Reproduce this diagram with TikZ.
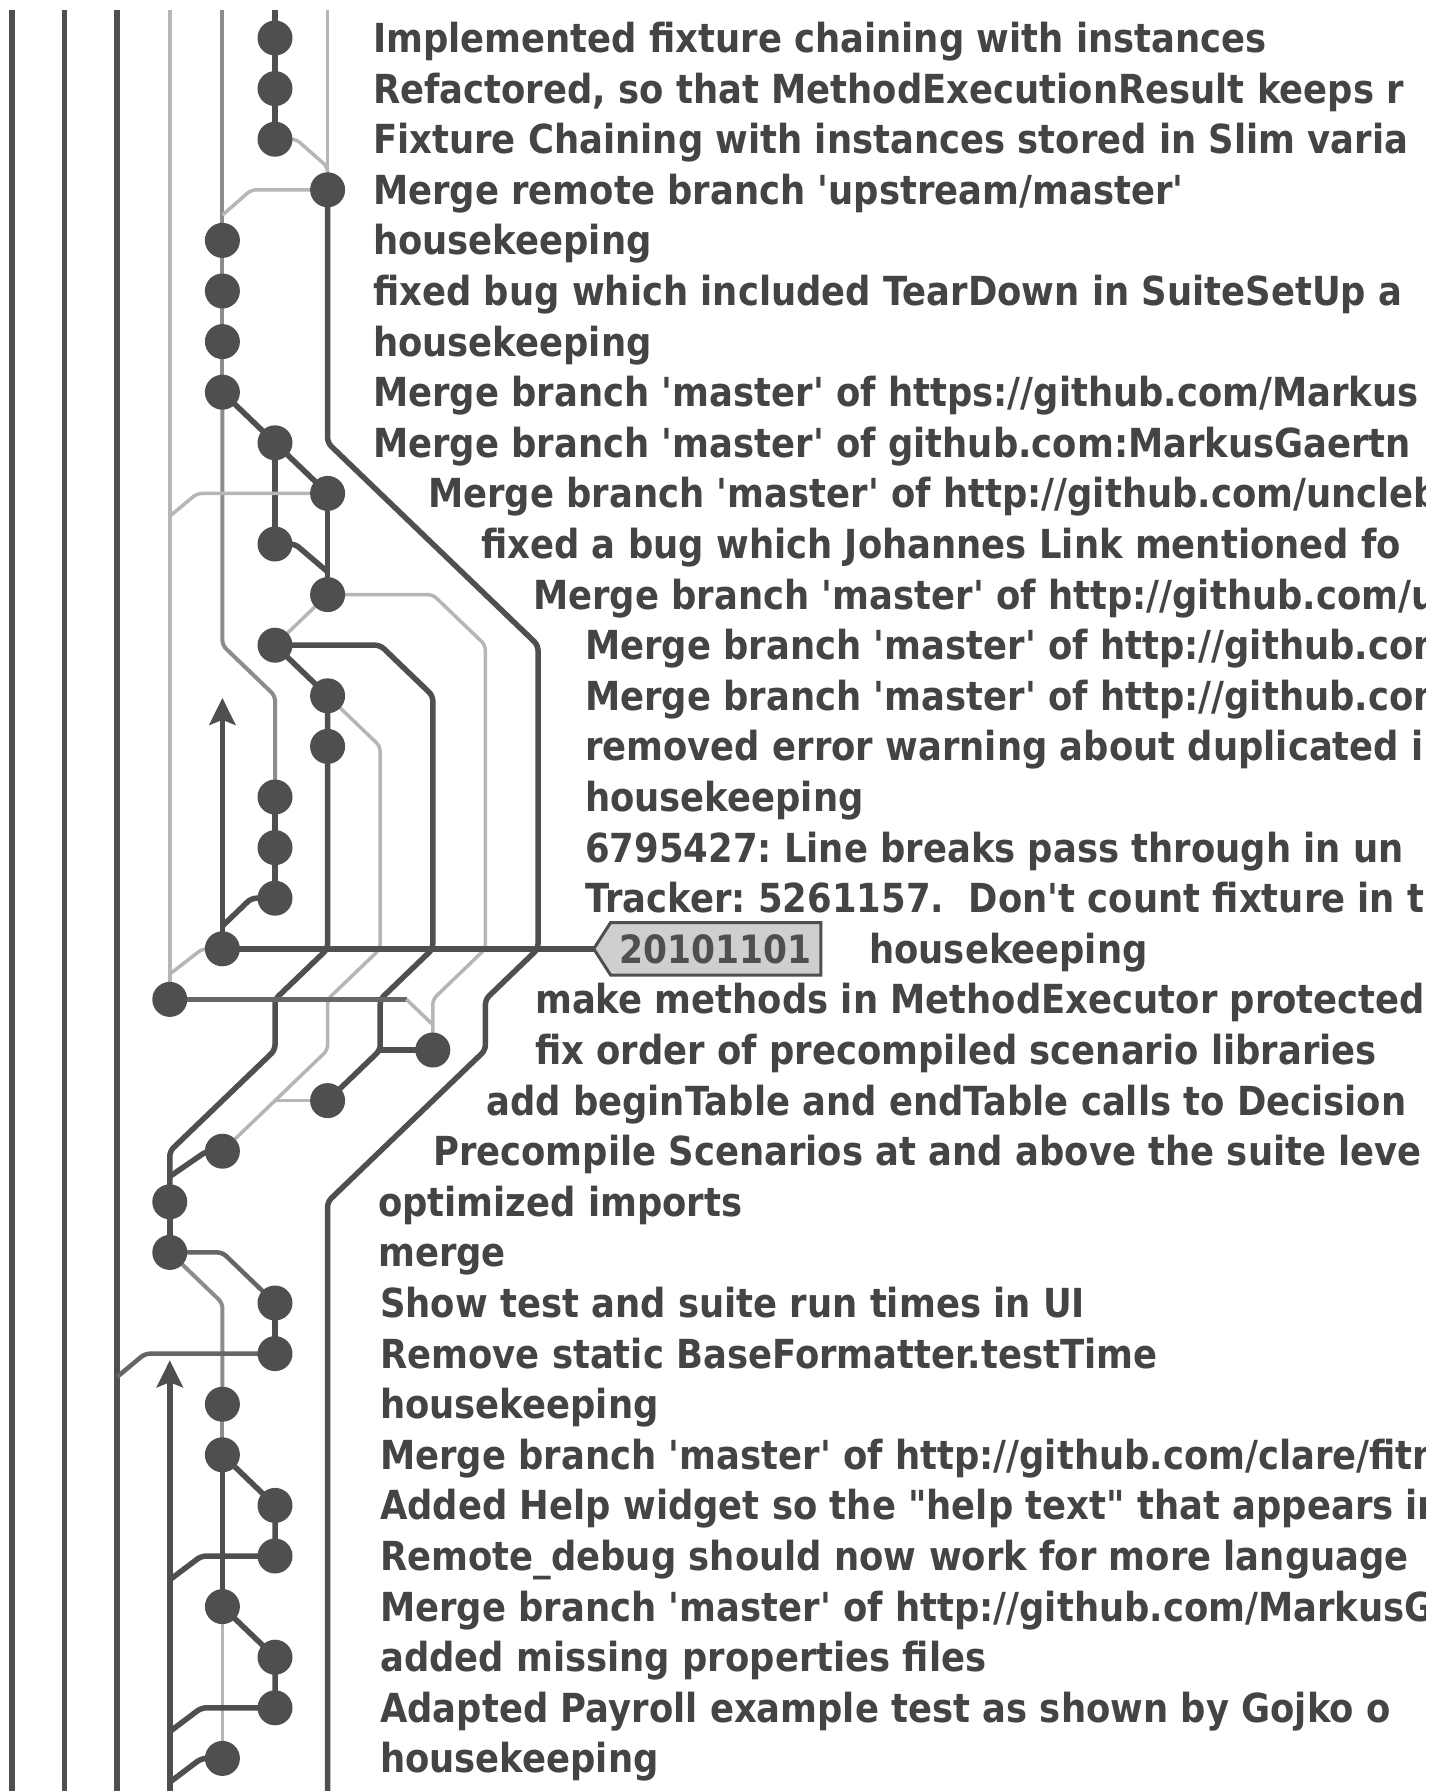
\documentclass[tikz,border=0pt]{standalone}
\usepackage{fontspec}
\newfontfamily\gfont{DejaVu Sans Bold}[Ligatures=TeXOff,FakeStretch=0.885]
\usetikzlibrary{arrows.meta}
\pgfdeclarelayer{bg}
\pgfsetlayers{bg,main}
\definecolor{dk}{HTML}{4F4F4F}
\definecolor{md}{HTML}{8C8C8C}
\definecolor{lt}{HTML}{B6B6B6}
\definecolor{hz}{HTML}{666666}
\definecolor{tx}{HTML}{444444}
\definecolor{tagfill}{HTML}{CFCFCF}
\begin{document}
\begin{tikzpicture}[
  dkl/.style={draw=dk, line width=5.5pt, rounded corners=5pt},
  mdl/.style={draw=md, line width=4pt, rounded corners=5pt},
  ltl/.style={draw=lt, line width=3.5pt, rounded corners=5pt},
  hzl/.style={draw=hz, line width=4.5pt, rounded corners=5pt},
  dot/.style={circle, fill=dk, inner sep=0pt, minimum size=35pt},
  msg/.style={anchor=base west, inner sep=0pt, text=tx, font=\gfont\fontsize{40}{48}\selectfont\frenchspacing},
  tagbox/.style={inner sep=0pt, minimum width=210pt, minimum height=52pt, text=dk, font=\gfont\fontsize{39}{44}\selectfont},
  uparrow/.style={-{Stealth[length=27pt,width=26pt,inset=5pt]}},
]
\begin{pgfonlayer}{bg}
\fill[white] (0,0) rectangle (1448pt,-1791pt);
\end{pgfonlayer}
\useasboundingbox (0,0) rectangle (1448pt,-1791pt);

\begin{scope}[x=52.6pt, y=-50.6pt, shift={(12pt,-38pt)}]
  % commits
  \node[dot] (c0) at (5,0) {};
  \node[dot] (c1) at (5,1) {};
  \node[dot] (c2) at (5,2) {};
  \node[dot] (c3) at (6,3) {};
  \node[dot] (c4) at (4,4) {};
  \node[dot] (c5) at (4,5) {};
  \node[dot] (c6) at (4,6) {};
  \node[dot] (c7) at (4,7) {};
  \node[dot] (c8) at (5,8) {};
  \node[dot] (c9) at (6,9) {};
  \node[dot] (c10) at (5,10) {};
  \node[dot] (c11) at (6,11) {};
  \node[dot] (c12) at (5,12) {};
  \node[dot] (c13) at (6,13) {};
  \node[dot] (c14) at (6,14) {};
  \node[dot] (c15) at (5,15) {};
  \node[dot] (c16) at (5,16) {};
  \node[dot] (c17) at (5,17) {};
  \node[dot] (c18) at (4,18) {};
  \node[dot] (c19) at (3,19) {};
  \node[dot] (c20) at (8,20) {};
  \node[dot] (c21) at (6,21) {};
  \node[dot] (c22) at (4,22) {};
  \node[dot] (c23) at (3,23) {};
  \node[dot] (c24) at (3,24) {};
  \node[dot] (c25) at (5,25) {};
  \node[dot] (c26) at (5,26) {};
  \node[dot] (c27) at (4,27) {};
  \node[dot] (c28) at (4,28) {};
  \node[dot] (c29) at (5,29) {};
  \node[dot] (c30) at (5,30) {};
  \node[dot] (c31) at (4,31) {};
  \node[dot] (c32) at (5,32) {};
  \node[dot] (c33) at (5,33) {};
  \node[dot] (c34) at (4,34) {};

  % free ends
  \coordinate (top0) at (0,-0.55);
  \coordinate (bot0) at (0,34.7);
  \coordinate (top1) at (1,-0.55);
  \coordinate (bot1) at (1,34.7);
  \coordinate (top2) at (2,-0.55);
  \coordinate (bot2) at (2,34.7);
  \coordinate (top3) at (3,-0.55);
  \coordinate (top4) at (4,-0.55);
  \coordinate (top5) at (5,-0.55);
  \coordinate (top6) at (6,-0.55);
  \coordinate (bot6) at (6,34.7);
  \coordinate (bot3) at (3,34.7);
  \coordinate (arrowA) at (4,13.04);
  \coordinate (arrowB) at (3,26.13);
  \coordinate (tagtip) at (11.06,18);

  % tag
  \node[tagbox] (tag) at (13.38,18) {20101101};

  \begin{pgfonlayer}{bg}
    \draw[dkl] (top0) -- (bot0);
    \draw[dkl] (top1) -- (bot1);
    \draw[dkl] (top2) -- (bot2);
    \draw[ltl] (top3) -- (3,18.5) -- (c19.center);
    \draw[mdl] (top4) -- (c4.center);
    \draw[dkl] (top5) -- (c0.center);
    \draw[dkl] (c0.center) -- (c1.center) -- (c2.center);
    \draw[ltl] (top6) -- (c3.center);
    \draw[ltl] (c2.center) -- (5.4,2) -- (6,2.55) -- (c3.center);
    \draw[ltl] (c3.center) -- (4.55,3) -- (4,3.5);
    \draw[dkl] (c3.center) -- (6,8) -- (10,12) -- (10,18) -- (9,19) -- (9,20) -- (6,23) -- (bot6);
    \draw[mdl] (c4.center) -- (c5.center) -- (c6.center) -- (c7.center);
    \draw[dkl] (c7.center) -- (c8.center) -- (c9.center);
    \draw[mdl] (c7.center) -- (4,12) -- (5,13) -- (c15.center);
    \draw[dkl] (c8.center) -- (c10.center);
    \draw[ltl] (c9.center) -- (3.52,9) -- (3,9.45);
    \draw[dkl] (c9.center) -- (c11.center);
    \draw[dkl] (c10.center) -- (5.38,10) -- (6,10.55);
    \draw[ltl] (c11.center) -- (8,11) -- (9,12) -- (9,18) -- (8,19) -- (c20.center);
    \draw[ltl] (c11.center) -- (c12.center);
    \draw[dkl] (c12.center) -- (7,12) -- (8,13) -- (8,18) -- (7,19) -- (7,20) -- (c21.center);
    \draw[dkl] (c12.center) -- (c13.center);
    \draw[ltl] (c13.center) -- (7,14) -- (7,18) -- (6,19) -- (6,20) -- (c22.center);
    \draw[dkl] (c13.center) -- (c14.center) -- (6,18) -- (5,19) -- (5,20) -- (3,22) -- (c23.center);
    \draw[dkl] (c15.center) -- (c16.center) -- (c17.center);
    \draw[dkl] (c17.center) -- (4.55,17) -- (4,17.55);
    \draw[dkl, rounded corners=0pt, uparrow] (c18.center) -- (arrowA);
    \draw[ltl] (c18.center) -- (3.62,18) -- (3,18.5);
    \draw[dkl] (c18.center) -- (tagtip);
    \filldraw[fill=tagfill, draw=dk, line width=3pt, line join=miter]
      (tag.north east) -- (tag.south east) -- (tag.south west) -- (tagtip) -- (tag.north west) -- cycle;
    \draw[hzl] (c19.center) -- (7.5,19);
    \draw[ltl] (7.5,19) -- (8,19.5);
    \draw[dkl] (c20.center) -- (7,20);
    \draw[ltl] (c21.center) -- (5,21);
    \draw[dkl] (c22.center) -- (3.7,22) -- (3,22.5);
    \draw[dkl] (c23.center) -- (c24.center);
    \draw[hzl] (c24.center) -- (4,24) -- (c25.center);
    \draw[mdl] (c24.center) -- (4,25) -- (c27.center);
    \draw[dkl] (c25.center) -- (c26.center);
    \draw[hzl] (c26.center) -- (2.53,26) -- (2,26.46);
    \draw[dkl, rounded corners=0pt, uparrow] (bot3) -- (arrowB);
    \draw[mdl] (c27.center) -- (c28.center);
    \draw[dkl] (c28.center) -- (c31.center);
    \draw[dkl] (c28.center) -- (c29.center) -- (c30.center);
    \draw[dkl] (c30.center) -- (3.6,30) -- (3,30.47);
    \draw[ltl] (c31.center) -- (c34.center);
    \draw[dkl] (c31.center) -- (c32.center) -- (c33.center);
    \draw[dkl] (c33.center) -- (3.6,33) -- (3,33.47);
    \draw[dkl] (c34.center) -- (3.6,34) -- (3,34.47);
  \end{pgfonlayer}
\end{scope}

\begin{scope}[x=1pt, y=-50.6pt, shift={(0pt,-52.5pt)}]
  \clip (0,-2) rectangle (1425,36);
  \node[msg] (t0) at (373,0) {Implemented fixture chaining with instances};
  \node[msg] (t1) at (373,1) {Refactored, so that MethodExecutionResult keeps r};
  \node[msg] (t2) at (373,2) {Fixture Chaining with instances stored in Slim varia};
  \node[msg] (t3) at (373,3) {Merge remote branch 'upstream/master'};
  \node[msg] (t4) at (373,4) {housekeeping};
  \node[msg] (t5) at (373,5) {fixed bug which included TearDown in SuiteSetUp a};
  \node[msg] (t6) at (373,6) {housekeeping};
  \node[msg] (t7) at (373,7) {Merge branch 'master' of https://github.com/Markus};
  \node[msg] (t8) at (373,8) {Merge branch 'master' of github.com:MarkusGaertn};
  \node[msg] (t9) at (428,9) {Merge branch 'master' of http://github.com/uncleb};
  \node[msg] (t10) at (481,10) {fixed a bug which Johannes Link mentioned fo};
  \node[msg] (t11) at (533,11) {Merge branch 'master' of http://github.com/u};
  \node[msg] (t12) at (585,12) {Merge branch 'master' of http://github.com};
  \node[msg] (t13) at (585,13) {Merge branch 'master' of http://github.com};
  \node[msg] (t14) at (585,14) {removed error warning about duplicated i};
  \node[msg] (t15) at (585,15) {housekeeping};
  \node[msg] (t16) at (585,16) {6795427: Line breaks pass through in un};
  \node[msg] (t17) at (585,17) {Tracker: 5261157.\ \ Don't count fixture in t};
  \node[msg] (t18) at (869,18) {housekeeping};
  \node[msg] (t19) at (535,19) {make methods in MethodExecutor protected};
  \node[msg] (t20) at (535,20) {fix order of precompiled scenario libraries};
  \node[msg] (t21) at (486,21) {add beginTable and endTable calls to Decision};
  \node[msg] (t22) at (433,22) {Precompile Scenarios at and above the suite leve};
  \node[msg] (t23) at (378,23) {optimized imports};
  \node[msg] (t24) at (378,24) {merge};
  \node[msg] (t25) at (380,25) {Show test and suite run times in UI};
  \node[msg] (t26) at (380,26) {Remove static BaseFormatter.testTime};
  \node[msg] (t27) at (380,27) {housekeeping};
  \node[msg] (t28) at (380,28) {Merge branch 'master' of http://github.com/clare/fitn};
  \node[msg] (t29) at (380,29) {Added Help widget so the "help text" that appears in};
  \node[msg] (t30) at (380,30) {Remote\_debug should now work for more language};
  \node[msg] (t31) at (380,31) {Merge branch 'master' of http://github.com/MarkusG};
  \node[msg] (t32) at (380,32) {added missing properties files};
  \node[msg] (t33) at (380,33) {Adapted Payroll example test as shown by Gojko o};
  \node[msg] (t34) at (380,34) {housekeeping};
\end{scope}
\end{tikzpicture}
\end{document}
